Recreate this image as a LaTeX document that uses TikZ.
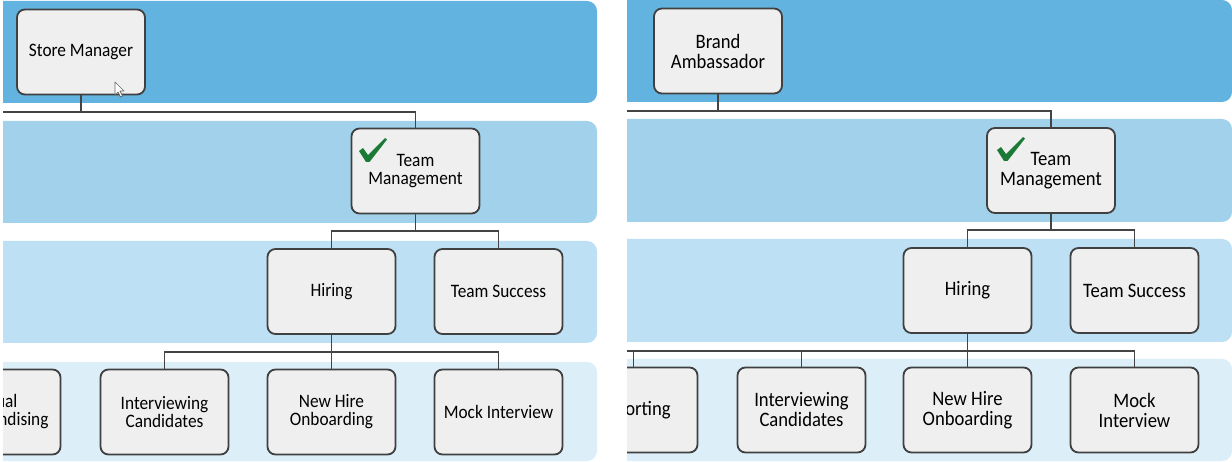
\documentclass[tikz,border=0pt]{standalone}
\usepackage{fontspec}
\newfontfamily\lfont[FakeStretch=0.91]{Carlito}
\definecolor{cA}{HTML}{63B3E0}
\definecolor{cB}{HTML}{A2D2EB}
\definecolor{cC}{HTML}{BDE0F4}
\definecolor{cD}{HTML}{DCEEF8}
\definecolor{boxfill}{HTML}{EFEFEF}
\definecolor{boxline}{HTML}{404040}
\definecolor{connline}{HTML}{444444}
\definecolor{chkgreen}{HTML}{1B7A35}
\begin{document}
\begin{tikzpicture}[x=1pt,y=-1pt,
  band/.style={rounded corners=10pt},
  boxL/.style={draw=boxline, line width=1.8pt, fill=boxfill, rounded corners=8pt,
    minimum width=128pt, minimum height=85pt, inner sep=2pt, align=center,
    font=\lfont\fontsize{19}{18}\selectfont},
  boxR/.style={boxL, font=\lfont\fontsize{20.5}{20}\selectfont},
  conn/.style={draw=connline, line width=1.8pt},
  chk/.style={fill=chkgreen},
  cursorshape/.style={fill=white, draw=gray!80!black, line width=0.7pt, line join=round}]
\useasboundingbox (0,0) rectangle (1232,462);
\fill[white] (0,0) rectangle (1232,462);

% ---------------- left panel ----------------
\begin{scope}
\clip (3,-5) rectangle (600,470);
\fill[band, cA] (-50,1) rectangle (597,103);
\fill[band, cB] (-50,121) rectangle (597,223);
\fill[band, cC] (-50,241) rectangle (597,343);
\fill[band, cD] (-50,362) rectangle (597,461);

\node[boxL] (sm)  at (81,52)     {Store Manager};
\node[boxL] (tm)  at (415.5,171) {Team\\Management};
\node[boxL] (hi)  at (331.5,291.5) {Hiring};
\node[boxL] (ts)  at (498.5,291.5) {Team Success};
\node[boxL] (vm)  at (-3.5,412)  {Visual\\Merchandising};
\node[boxL] (ic)  at (164.5,412) {Interviewing\\Candidates};
\node[boxL] (nh)  at (331.5,412) {New Hire\\Onboarding};
\node[boxL] (mi)  at (498.5,412) {Mock Interview};

\coordinate (la1) at (-20,112);
\coordinate (lb1) at (0,112);
\coordinate (lb2) at (0,231);
\coordinate (lb3) at (0,352);
\draw[conn] (sm.south) -- (sm.south |- lb1) -| (tm.north);
\draw[conn] (sm.south |- lb1) -- (la1);
\draw[conn] (tm.south) -- (tm.south |- lb2);
\draw[conn] (hi.north) |- (tm.south |- lb2) -| (ts.north);
\draw[conn] (hi.south) -- (nh.north);
\draw[conn] (ic.north) |- (hi.south |- lb3) -| (mi.north);

\fill[chk, shift={(359,138)}] (0,13) -- (4,10) -- (9,17) -- (26,0) -- (28,1.5) -- (10.5,24) -- (7,24) -- cycle;

\draw[cursorshape, shift={(115,82)}] (0,0) -- (0,13) -- (3,10) -- (5.5,15) -- (7.5,14) -- (5,9) -- (9,9) -- cycle;
\end{scope}

% ---------------- right panel ----------------
\begin{scope}
\clip (627,-5) rectangle (1240,470);
\fill[band, cA] (560,0) rectangle (1232,102);
\fill[band, cB] (560,119) rectangle (1232,222);
\fill[band, cC] (560,239) rectangle (1232,342);
\fill[band, cD] (560,359) rectangle (1232,461);

\node[boxR] (ba)  at (718,51)      {Brand\\Ambassador};
\node[boxR] (tm2) at (1051,170.5)  {Team\\Management};
\node[boxR] (hi2) at (967.5,290.5) {Hiring};
\node[boxR] (ts2) at (1134.5,290.5) {Team Success};
\node[boxR] (rp)  at (633.5,410)   {Reporting};
\node[boxR] (ic2) at (801.5,410)   {Interviewing\\Candidates};
\node[boxR] (nh2) at (967.5,410)   {New Hire\\Onboarding};
\node[boxR] (mi2) at (1134.5,410)  {Mock\\Interview};

\coordinate (ra1) at (600,111);
\coordinate (rb1) at (0,111);
\coordinate (rb2) at (0,230);
\coordinate (rb3) at (0,351);
\coordinate (ra3) at (600,351);
\draw[conn] (ba.south) -- (ba.south |- rb1) -| (tm2.north);
\draw[conn] (ba.south |- rb1) -- (ra1);
\draw[conn] (tm2.south) -- (tm2.south |- rb2);
\draw[conn] (hi2.north) |- (tm2.south |- rb2) -| (ts2.north);
\draw[conn] (hi2.south) -- (nh2.north);
\draw[conn] (ra3) -| (rp.north);
\draw[conn] (rp.north |- rb3) -| (ic2.north);
\draw[conn] (ic2.north |- rb3) -| (mi2.north);

\fill[chk, shift={(997,137)}] (0,13) -- (4,10) -- (9,17) -- (26,0) -- (28,1.5) -- (10.5,24) -- (7,24) -- cycle;
\end{scope}
\end{tikzpicture}
\end{document}
